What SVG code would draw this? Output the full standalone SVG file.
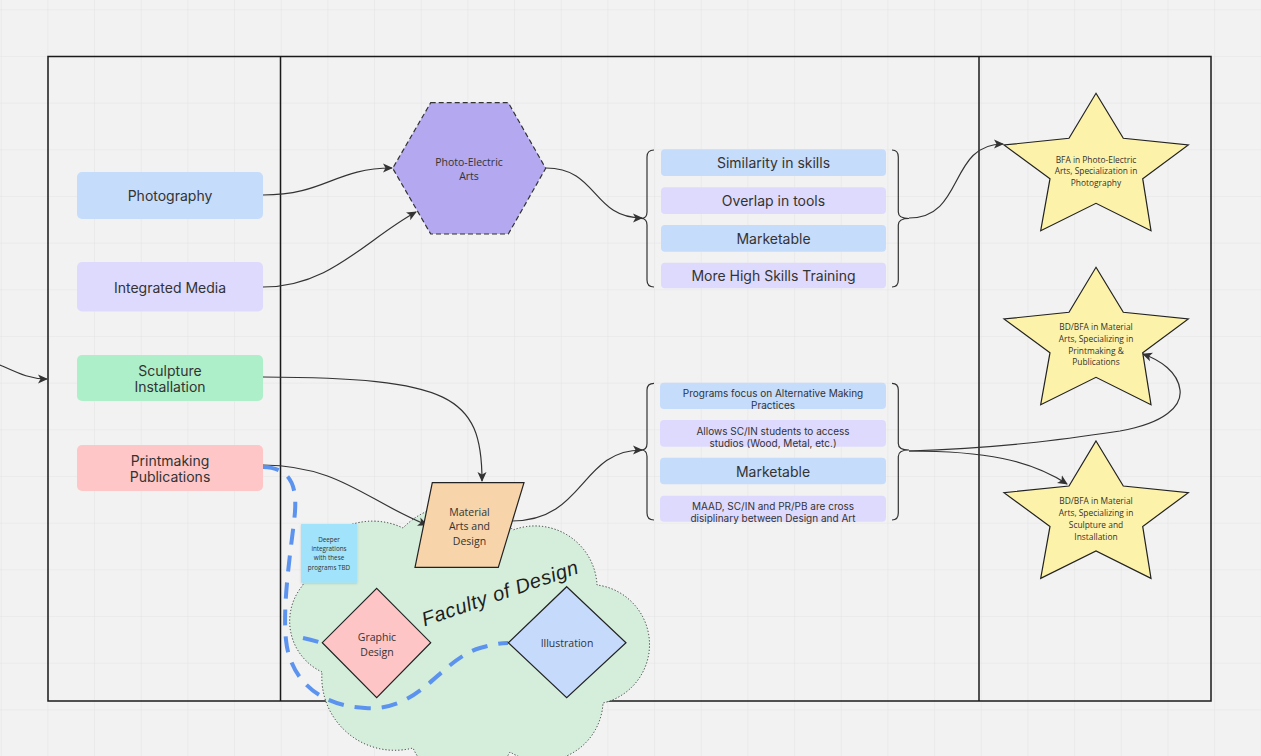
<svg xmlns="http://www.w3.org/2000/svg" width="1261" height="756" viewBox="0 0 1261 756">
  <defs>
    <pattern id="grid" x="0.7" y="9.3" width="46.67" height="46.67" patternUnits="userSpaceOnUse">
      <path d="M0,0 H46.67 M0,0 V46.67" fill="none" stroke="#e4e4e4" stroke-width="1.2"/>
    </pattern>
    <marker id="arrow" viewBox="0 0 10 10" refX="9" refY="5" markerWidth="10" markerHeight="10" markerUnits="userSpaceOnUse" orient="auto">
      <path d="M0,0.5 L10,5 L0,9.5 L2.5,5 Z" fill="#333"/>
    </marker>
    <filter id="noteShadow" x="-20%" y="-20%" width="140%" height="140%">
      <feDropShadow dx="0" dy="1" stdDeviation="1" flood-color="#000" flood-opacity="0.15"/>
    </filter>
    <style>
      .card-text { font-family: Inter, "Noto Sans", sans-serif; font-size: 14px; fill: #333; text-anchor: middle; dominant-baseline: central; }
      .list-small { font-family: Inter, "Noto Sans", sans-serif; font-size: 10px; fill: #333; text-anchor: middle; dominant-baseline: central; }
      .shape-text { font-family: "Open Sans", "Noto Sans", sans-serif; fill: #333; text-anchor: middle; dominant-baseline: central; }
      .edge { fill: none; stroke: #333; stroke-width: 1.2; }
      .brace { fill: none; stroke: #333; stroke-width: 1.2; }
      .blue { fill: #c6dcfb; }
      .lav { fill: #dedafd; }
      .star { fill: #fdf2a9; stroke: #222; stroke-width: 1.2; }
      .dash-link { fill: none; stroke: #5b93ef; stroke-width: 4; stroke-dasharray: 16 11; stroke-linecap: butt; }
    </style>
  </defs>

  <!-- canvas -->
  <rect width="1261" height="756" fill="#f2f2f2"/>
  <rect width="1261" height="756" fill="url(#grid)"/>

  <!-- swimlane frame -->
  <g id="frame" fill="none" stroke="#1a1a1a" stroke-width="1.5">
    <rect x="48" y="56.5" width="1163" height="644.5"/>
    <line x1="280.5" y1="56.5" x2="280.5" y2="701"/>
    <line x1="979" y1="56.5" x2="979" y2="701"/>
  </g>

  <!-- Faculty of Design cloud -->
  <g id="cloud">
    <path d="M322,672 A56,56 0 0 1 303,585 A70,70 0 0 1 403,528 A75,75 0 0 1 513,530 A62,62 0 0 1 597,585 A60,60 0 0 1 603,703 A61,61 0 0 1 510,752 A54,54 0 0 1 413,748 A73,73 0 0 1 322,672 Z" fill="#d5eedc" stroke="#333" stroke-width="1" stroke-dasharray="1.2 2"/>
    <text x="500" y="593" transform="rotate(-19 500 593)" font-family="'Liberation Sans', sans-serif" font-style="italic" font-size="20" fill="#1e1e1e" text-anchor="middle" dominant-baseline="central" letter-spacing="0.6">Faculty of Design</text>
  </g>

  <!-- connectors -->
  <g id="connectors">
    <path class="edge" d="M0,365 C20,374 30,379 47,379" marker-end="url(#arrow)"/>
    <path class="edge" d="M263,195 C325,195 335,168 392,168" marker-end="url(#arrow)"/>
    <path class="edge" d="M263,287 C330,287 365,240 416,212" marker-end="url(#arrow)"/>
    <path class="edge" d="M546,168 C598,168 592,218 642,218" marker-end="url(#arrow)"/>
    <path class="edge" d="M909,218 C965,218 948,144 1003,144" marker-end="url(#arrow)"/>
    <path class="edge" d="M263,377 C450,378 482,395 482,481" marker-end="url(#arrow)"/>
    <path class="edge" d="M263,465 C340,466 365,500 427,525" marker-end="url(#arrow)"/>
    <path class="edge" d="M512,521 C585,521 580,450 642,450" marker-end="url(#arrow)"/>
    <path class="edge" d="M909,451 C985,451 1030,460 1067,484" marker-end="url(#arrow)"/>
    <path class="edge" d="M909,451 C1000,448 1060,440 1120,431 C1165,423 1182,406 1180,390 C1178,372 1160,360 1143,354" marker-end="url(#arrow)"/>
    <!-- dashed program links -->
    <path class="dash-link" d="M263,467 C300,468 297,500 293,530 C288,570 283,610 286,640 C290,680 320,706 365,708 C420,712 440,660 480,648 C495,644 500,643 508,643"/>
    <path class="dash-link" d="M303,638 Q312,640 322,643"/>
  </g>

  <!-- column 1: programs -->
  <g id="photography">
    <rect x="77" y="172" width="186" height="47" rx="5" class="blue"/>
    <text x="170" y="195.5" class="card-text">Photography</text>
  </g>
  <g id="integrated-media">
    <rect x="77" y="262" width="186" height="49.5" rx="5" class="lav"/>
    <text x="170" y="287" class="card-text">Integrated Media</text>
  </g>
  <g id="sculpture-installation">
    <rect x="77" y="355" width="186" height="46" rx="5" fill="#adefc8"/>
    <text x="170" y="370.5" class="card-text">Sculpture</text>
    <text x="170" y="386.5" class="card-text">Installation</text>
  </g>
  <g id="printmaking-publications">
    <rect x="77" y="445" width="186" height="46" rx="5" fill="#fec6c6"/>
    <text x="170" y="460" class="card-text">Printmaking</text>
    <text x="170" y="476" class="card-text">Publications</text>
  </g>

  <!-- column 2: merged programs -->
  <g id="photo-electric-arts">
    <polygon points="430.7,102.7 508.3,102.7 545.7,168.3 508.3,234 430.7,234 392.7,168.3" fill="#b4a8f1" stroke="#333" stroke-width="1.2" stroke-dasharray="5 3"/>
    <text x="469" y="161.5" class="shape-text" font-size="10.5">Photo-Electric</text>
    <text x="469" y="176" class="shape-text" font-size="10.5">Arts</text>
  </g>

  <g id="material-arts-design">
    <polygon points="432.3,482.7 524,482.7 498.3,567.3 415,567.3" fill="#f7d4aa" stroke="#222" stroke-width="1.2"/>
    <text x="469.5" y="511.5" class="shape-text" font-size="10.5">Material</text>
    <text x="469.5" y="526" class="shape-text" font-size="10.5">Arts and</text>
    <text x="469.5" y="540.5" class="shape-text" font-size="10.5">Design</text>
  </g>

  <g id="graphic-design">
    <polygon points="376.7,588.3 430.7,642.7 376.7,697.7 322.3,642.7" fill="#fdc5c5" stroke="#222" stroke-width="1.2"/>
    <text x="377" y="636.5" class="shape-text" font-size="10.5">Graphic</text>
    <text x="377" y="651.5" class="shape-text" font-size="10.5">Design</text>
  </g>

  <g id="illustration">
    <polygon points="566.7,586.7 626,642.7 566.7,697.7 508.3,642.7" fill="#c6dafc" stroke="#222" stroke-width="1.2"/>
    <text x="567" y="643" class="shape-text" font-size="10.5">Illustration</text>
  </g>

  <g id="sticky-note">
    <rect x="301" y="524" width="56.3" height="58.7" fill="#a0e3fb" filter="url(#noteShadow)"/>
    <text x="329" y="539.3" class="shape-text" font-size="6.3">Deeper</text>
    <text x="329" y="548.6" class="shape-text" font-size="6.3">integrations</text>
    <text x="329" y="557.9" class="shape-text" font-size="6.3">with these</text>
    <text x="329" y="567.2" class="shape-text" font-size="6.3">programs TBD</text>
  </g>

  <!-- rationale list: photo-electric -->
  <g id="list-photo-electric">
    <path class="brace" d="M654,150 Q647,150 647,157 L647,212 Q647,218.5 641,218.5 Q647,218.5 647,225 L647,280 Q647,287 654,287"/>
    <path class="brace" d="M892,150 Q898.3,150 898.3,157 L898.3,212 Q898.3,218.5 909,218.5 Q898.3,218.5 898.3,225 L898.3,280 Q898.3,287 892,287"/>
    <rect x="661" y="149.3" width="225" height="26.7" rx="4" class="blue"/>
    <text x="773.5" y="162.7" class="card-text">Similarity in skills</text>
    <rect x="661" y="187.3" width="225" height="26.7" rx="4" class="lav"/>
    <text x="773.5" y="200.7" class="card-text">Overlap in tools</text>
    <rect x="661" y="225" width="225" height="26.7" rx="4" class="blue"/>
    <text x="773.5" y="238.4" class="card-text">Marketable</text>
    <rect x="661" y="262.7" width="225" height="25.6" rx="4" class="lav"/>
    <text x="773.5" y="275.7" class="card-text">More High Skills Training</text>
  </g>

  <!-- rationale list: material arts -->
  <g id="list-material-arts">
    <path class="brace" d="M654,383.3 Q647,383.3 647,390 L647,443.5 Q647,450 641,450 Q647,450 647,456.5 L647,513 Q647,520 654,520"/>
    <path class="brace" d="M892,383.3 Q898.3,383.3 898.3,390 L898.3,443.5 Q898.3,450 909,450 Q898.3,450 898.3,456.5 L898.3,513 Q898.3,520 892,520"/>
    <rect x="660" y="382.7" width="226" height="26.3" rx="4" class="blue"/>
    <text x="773" y="393.3" class="list-small">Programs focus on Alternative Making</text>
    <text x="773" y="405" class="list-small">Practices</text>
    <rect x="660" y="420" width="226" height="26.7" rx="4" class="lav"/>
    <text x="773" y="431" class="list-small">Allows SC/IN students to access</text>
    <text x="773" y="442.7" class="list-small">studios (Wood, Metal, etc.)</text>
    <rect x="660" y="457.7" width="226" height="26.6" rx="4" class="blue"/>
    <text x="773" y="471" class="card-text">Marketable</text>
    <rect x="660" y="495.7" width="226" height="26" rx="4" class="lav"/>
    <text x="773" y="506" class="list-small">MAAD, SC/IN and PR/PB are cross</text>
    <text x="773" y="517.7" class="list-small">disiplinary between Design and Art</text>
  </g>

  <!-- column 3: degree outcomes -->
  <g id="star-photo-electric">
    <polygon class="star" points="1096,93.3 1123.3,138.3 1188.3,145 1142.7,178.7 1151,230.7 1096,203.3 1040.7,230.7 1050,178.7 1004,145 1069,138.3"/>
    <text x="1096" y="159.3" class="shape-text" font-size="8.4">BFA in Photo-Electric</text>
    <text x="1096" y="170.7" class="shape-text" font-size="8.4">Arts, Specialization in</text>
    <text x="1096" y="182" class="shape-text" font-size="8.4">Photography</text>
  </g>

  <g id="star-printmaking">
    <polygon class="star" points="1096,267.3 1123.3,312.3 1188.3,319 1142.7,352.7 1151,404.7 1096,377.3 1040.7,404.7 1050,352.7 1004,319 1069,312.3"/>
    <text x="1096" y="326.7" class="shape-text" font-size="8.4">BD/BFA in Material</text>
    <text x="1096" y="338.4" class="shape-text" font-size="8.4">Arts, Specializing in</text>
    <text x="1096" y="350" class="shape-text" font-size="8.4">Printmaking &amp;</text>
    <text x="1096" y="361.7" class="shape-text" font-size="8.4">Publications</text>
  </g>

  <g id="star-sculpture">
    <polygon class="star" points="1096,441 1123.3,486 1188.3,492.7 1142.7,526.4 1151,578.4 1096,551 1040.7,578.4 1050,526.4 1004,492.7 1069,486"/>
    <text x="1096" y="500.7" class="shape-text" font-size="8.4">BD/BFA in Material</text>
    <text x="1096" y="512.5" class="shape-text" font-size="8.4">Arts, Specializing in</text>
    <text x="1096" y="524.3" class="shape-text" font-size="8.4">Sculpture and</text>
    <text x="1096" y="536" class="shape-text" font-size="8.4">Installation</text>
  </g>
</svg>
